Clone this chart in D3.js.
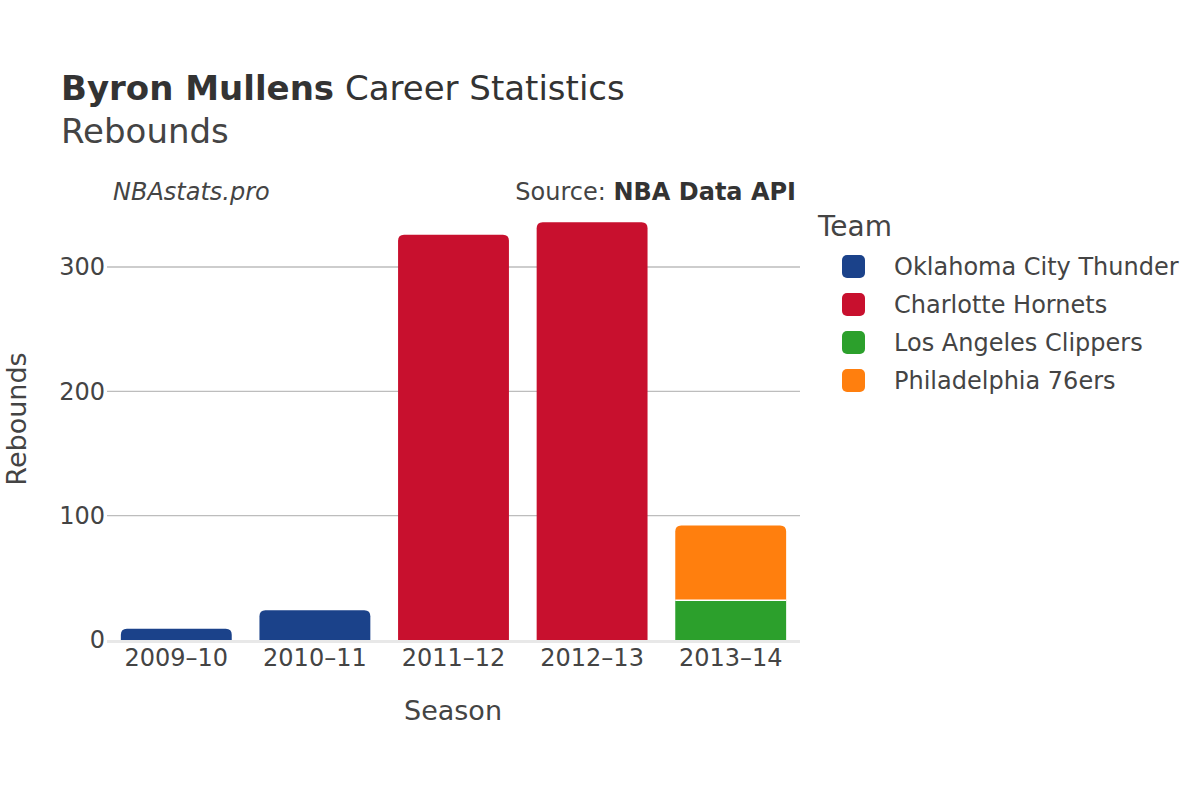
<!DOCTYPE html>
<html><head><meta charset="utf-8">
<script src="https://cdn.jsdelivr.net/npm/d3@7"></script>
<style>body{margin:0;background:#fff;} text{font-family:"DejaVu Sans",sans-serif;}</style>
</head><body><svg id="c" width="1200" height="800"></svg>
<script>
const seasons = ["2009–10","2010–11","2011–12","2012–13","2013–14"];
const teams = ["Oklahoma City Thunder","Charlotte Hornets","Los Angeles Clippers","Philadelphia 76ers"];
const colors = ["#1b428a","#c8102e","#2ca02c","#ff7f0e"];
const okc = [9,24,0,0,0];
const cha = [0,0,326,336,0];
const lac = [0,0,0,0,32];
const phi = [0,0,0,0,60];
const yTicks = [0,100,200,300];
const series = [okc,cha,lac,phi];

const svg = d3.select("#c");
const m = {l:107, r:800, t:205, b:640};
const x = d3.scaleBand().domain(seasons).range([m.l,m.r]).paddingInner(0.2).paddingOuter(0.1);
const y = d3.scaleLinear().domain([0,350]).range([m.b, m.b - 350*(373/300)]);

// grid
svg.append("g").selectAll("line").data(yTicks.filter(d=>d>0)).join("line")
  .attr("x1",m.l).attr("x2",m.r).attr("y1",d=>y(d)).attr("y2",d=>y(d))
  .attr("stroke","#bdbdbd").attr("stroke-width",1.3);

// y tick labels
svg.append("g").selectAll("text").data(yTicks).join("text")
  .attr("x",m.l-2).attr("y",d=>y(d)).attr("dy","0.35em").attr("text-anchor","end")
  .attr("font-size",24).attr("fill","#444").text(d=>d);

// stacks
const rows = seasons.map((s,i)=>{const o={season:s}; teams.forEach((t,j)=>o[t]=series[j][i]); return o;});
const stack = d3.stack().keys(teams)(rows);
const r = 6;
function barPath(x0,w,y0,y1,rounded){
  if(!rounded) return `M${x0},${y0}V${y1}H${x0+w}V${y0}Z`;
  const rr = Math.min(r,(y0-y1));
  return `M${x0},${y0}V${y1+rr}Q${x0},${y1} ${x0+rr},${y1}H${x0+w-rr}Q${x0+w},${y1} ${x0+w},${y1+rr}V${y0}Z`;
}
const g = svg.append("g");
seasons.forEach((s,i)=>{
  let top=-1; stack.forEach((l,j)=>{ if(l[i][1]-l[i][0]>0) top=j; });
  stack.forEach((l,j)=>{
    const v0=l[i][0], v1=l[i][1];
    if(v1-v0<=0) return;
    g.append("path").attr("d",barPath(x(s),x.bandwidth(),y(v0),y(v1),j===top))
      .attr("fill",colors[j]);
  });
});
seasons.forEach((s,i)=>{
  stack.forEach((l,j)=>{
    if(l[i][0]>0 && l[i][1]-l[i][0]>0)
      g.append("line").attr("x1",x(s)).attr("x2",x(s)+x.bandwidth()).attr("y1",y(l[i][0])).attr("y2",y(l[i][0])).attr("stroke","#fff").attr("stroke-width",1.5);
  });
});

// zero line
svg.append("line").attr("x1",m.l).attr("x2",m.r).attr("y1",y(0)+1.5).attr("y2",y(0)+1.5).attr("stroke","#e8e8e8").attr("stroke-width",3);

// x tick labels
svg.append("g").selectAll("text").data(seasons).join("text")
  .attr("x",d=>x(d)+x.bandwidth()/2).attr("y",666).attr("text-anchor","middle")
  .attr("font-size",24).attr("fill","#444").text(d=>d);

// axis titles
svg.append("text").attr("x",453).attr("y",720).attr("text-anchor","middle").attr("font-size",27).attr("fill","#444").text("Season");
svg.append("text").attr("transform","translate(26,419) rotate(-90)").attr("text-anchor","middle").attr("font-size",27).attr("fill","#444").text("Rebounds");

// titles
const t = svg.append("text").attr("x",61).attr("y",100).attr("font-size",34).attr("fill","#333");
t.append("tspan").attr("font-weight","bold").text("Byron Mullens");
t.append("tspan").text(" Career Statistics");
svg.append("text").attr("x",61).attr("y",143).attr("font-size",34).attr("fill","#444").text("Rebounds");

svg.append("text").attr("x",113).attr("y",200).attr("font-size",24).attr("font-style","italic").attr("fill","#444").text("NBAstats.pro");
const src = svg.append("text").attr("x",796).attr("y",200).attr("text-anchor","end").attr("font-size",24).attr("fill","#444");
src.append("tspan").text("Source: ");
src.append("tspan").attr("font-weight","bold").attr("fill","#333").text("NBA Data API");

// legend
svg.append("text").attr("x",818).attr("y",236).attr("font-size",28).attr("fill","#444").text("Team");
const lg = svg.append("g").selectAll("g").data(teams).join("g").attr("transform",(d,i)=>`translate(842,${266+i*38})`);
lg.append("rect").attr("x",0).attr("y",-11).attr("width",23).attr("height",23).attr("rx",5).attr("fill",(d,i)=>colors[i]);
lg.append("text").attr("x",52).attr("y",1).attr("dy","0.35em").attr("font-size",24).attr("fill","#444").text(d=>d);
</script></body></html>
